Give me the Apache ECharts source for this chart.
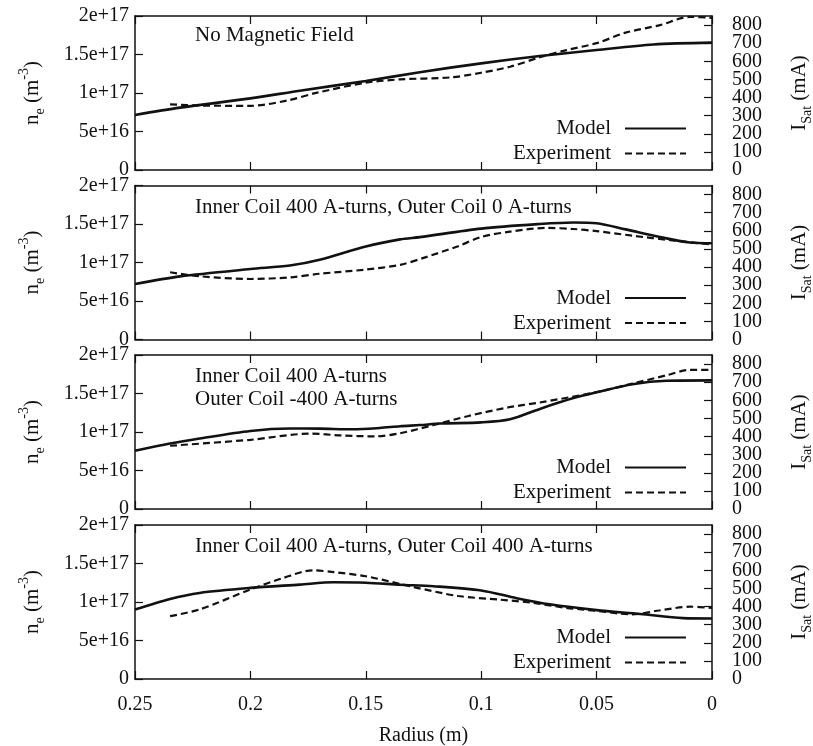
<!DOCTYPE html>
<html>
<head>
<meta charset="utf-8">
<script src="https://cdn.jsdelivr.net/npm/echarts@6/dist/echarts.min.js"></script>
<style>
  html, body { margin: 0; padding: 0; background: #fff; }
  #chart { width: 813px; height: 746px; }
</style>
</head>
<body>
<div id="chart"></div>
<script>
// Panel captions (one per magnetic-field configuration)
const panelTitles = [
  'No Magnetic Field',
  'Inner Coil 400 A-turns, Outer Coil 0 A-turns',
  'Inner Coil 400 A-turns\nOuter Coil -400 A-turns',
  'Inner Coil 400 A-turns, Outer Coil 400 A-turns'
];

// Model electron density n_e (m^-3) vs radius (m)
const model1 = [[0.25,7.15e16],[0.2305,8.1e16],[0.2,9.3e16],[0.1786,1.03e17],[0.15,1.156e17],[0.1266,1.27e17],[0.1,1.385e17],[0.0746,1.48e17],[0.05,1.558e17],[0.0254,1.63e17],[0,1.654e17]];
const model2 = [[0.25,7.2e16],[0.2305,8.2e16],[0.2,9.15e16],[0.1829,9.6e16],[0.17,1.035e17],[0.15,1.207e17],[0.1352,1.3e17],[0.1266,1.33e17],[0.1,1.44e17],[0.0746,1.5e17],[0.06,1.52e17],[0.05,1.51e17],[0.0374,1.43e17],[0.0225,1.33e17],[0.0096,1.26e17],[0,1.25e17]];
const model3 = [[0.25,7.56e16],[0.2348,8.5e16],[0.222,9.15e16],[0.2,1.014e17],[0.1829,1.046e17],[0.17,1.044e17],[0.1555,1.035e17],[0.144,1.052e17],[0.1352,1.075e17],[0.1266,1.09e17],[0.1176,1.11e17],[0.1,1.125e17],[0.0875,1.165e17],[0.0746,1.3e17],[0.06,1.44e17],[0.05,1.515e17],[0.0345,1.62e17],[0.0197,1.665e17],[0,1.67e17]];
const model4 = [[0.25,9.03e16],[0.2348,1.04e17],[0.222,1.118e17],[0.2,1.183e17],[0.1786,1.226e17],[0.164,1.256e17],[0.15,1.25e17],[0.1352,1.225e17],[0.1207,1.205e17],[0.1,1.15e17],[0.0847,1.05e17],[0.0703,9.7e16],[0.05,8.95e16],[0.0311,8.45e16],[0.0125,7.9e16],[0,7.85e16]];

// Measured ion saturation current I_Sat (mA) vs radius (m)
const exp1 = [[0.2348,362],[0.222,356],[0.2,354],[0.1843,383],[0.171,427],[0.15,482],[0.1352,500],[0.1133,511],[0.1,537],[0.0875,570],[0.0746,622],[0.063,662],[0.05,700],[0.0374,758],[0.0225,800],[0.0096,845],[0,840]];
const exp2 = [[0.2348,371],[0.222,349],[0.2,334],[0.1829,343],[0.17,363],[0.15,386],[0.1352,412],[0.1246,452],[0.11,515],[0.1,566],[0.0875,595],[0.0717,616],[0.06,610],[0.05,598],[0.0345,573],[0.0172,547],[0,524]];
const exp3 = [[0.2348,349],[0.2,382],[0.174,416],[0.1607,406],[0.146,401],[0.1352,418],[0.121,462],[0.105,515],[0.0885,560],[0.0746,588],[0.05,645],[0.0345,692],[0.0197,738],[0.0096,768],[0,768]];
const exp4 = [[0.2348,347],[0.222,384],[0.2,494],[0.1857,558],[0.173,600],[0.164,590],[0.15,567],[0.1352,525],[0.1295,508],[0.11,458],[0.0919,438],[0.0775,420],[0.0632,393],[0.05,376],[0.0345,357],[0.023,378],[0.0096,399],[0,393]];

const modelData = [model1, model2, model3, model4];
const expData = [exp1, exp2, exp3, exp4];
const legendNames = ['Model', 'Experiment'];

// Layout of the four stacked panels
const FONT = 'Liberation Serif';
const INK = '#111';
const panelTops = [16, 185.5, 355, 525];
const panelH = 154;
const titleTops = [23.5, 195.5, 364.5, 534.5];
const ISAT_MAX = 850;

function fmtDensity(v) {
  if (v === 0) return '0';
  return Number(v.toPrecision(3)).toExponential();
}

const lineAxis = { onZero: false, lineStyle: { color: INK, width: 1.5 } };
// negative length turns the tick marks into the plot frame
const tick = () => ({ show: true, inside: false, length: -8, lineStyle: { color: INK, width: 1.2 } });
const labelStyle = { fontFamily: FONT, fontSize: 20, color: INK };

const grid = [], xAxis = [], yAxis = [], series = [], legend = [], title = [];

panelTops.forEach((top, i) => {
  grid.push({ left: 135, right: 101, top: top, height: panelH, outerBoundsMode: 'none', containLabel: false });

  xAxis.push({
    gridIndex: i, type: 'value', min: 0, max: 0.25, interval: 0.05, inverse: true,
    axisLine: lineAxis, axisTick: tick(), splitLine: { show: false },
    axisLabel: Object.assign({ show: i === 3, margin: 16 }, labelStyle),
    name: i === 3 ? 'Radius (m)' : '', nameLocation: 'middle', nameGap: 47,
    nameTextStyle: labelStyle
  });
  xAxis.push({
    gridIndex: i, type: 'value', min: 0, max: 0.25, interval: 0.05, inverse: true,
    position: 'top', axisLine: lineAxis, axisTick: tick(),
    splitLine: { show: false }, axisLabel: { show: false }
  });

  // yAxis 3i: n_e (left), 3i+1: I_Sat (right), 3i+2: the I_Sat zero label
  yAxis.push({
    gridIndex: i, type: 'value', min: 0, max: 2e17, interval: 5e16, position: 'left',
    axisLine: Object.assign({ show: true }, lineAxis), axisTick: tick(),
    splitLine: { show: false },
    axisLabel: Object.assign({ margin: 6, formatter: fmtDensity, showMinLabel: true, showMaxLabel: true, hideOverlap: false }, labelStyle),
    name: '{n|n}{sub|e}{n| (m}{sup|-3}{n|)}', nameLocation: 'middle', nameRotate: 90, nameGap: 88,
    nameTextStyle: {
      fontFamily: FONT, fontSize: 21, color: INK,
      rich: {
        n: { fontFamily: FONT, fontSize: 21, color: INK, lineHeight: 30, verticalAlign: 'middle' },
        sub: { fontFamily: FONT, fontSize: 14, color: INK, lineHeight: 14, verticalAlign: 'bottom' },
        sup: { fontFamily: FONT, fontSize: 14, color: INK, lineHeight: 14, verticalAlign: 'top' }
      }
    }
  });
  yAxis.push({
    gridIndex: i, type: 'value', min: 0, max: ISAT_MAX, interval: 100, position: 'right',
    axisLine: Object.assign({ show: true }, lineAxis), axisTick: tick(),
    splitLine: { show: false },
    axisLabel: Object.assign({ margin: 20, showMinLabel: false, showMaxLabel: false }, labelStyle),
    name: '{n|I}{sub|Sat}{n| (mA)}', nameLocation: 'middle', nameRotate: 90, nameGap: 72,
    nameTextStyle: {
      fontFamily: FONT, fontSize: 21, color: INK,
      rich: {
        n: { fontFamily: FONT, fontSize: 21, color: INK, lineHeight: 30, verticalAlign: 'middle' },
        sub: { fontFamily: FONT, fontSize: 14, color: INK, lineHeight: 14, verticalAlign: 'bottom' }
      }
    }
  });
  yAxis.push({
    gridIndex: i, type: 'value', min: 0, max: ISAT_MAX, interval: ISAT_MAX, position: 'right',
    axisLine: { show: false, onZero: false }, axisTick: { show: false }, splitLine: { show: false },
    axisLabel: Object.assign({ margin: 20, showMinLabel: true, showMaxLabel: false }, labelStyle)
  });

  series.push({
    type: 'line', name: legendNames[0], xAxisIndex: 2 * i, yAxisIndex: 3 * i,
    data: modelData[i], symbol: 'none', smooth: 0.3,
    itemStyle: { color: INK }, lineStyle: { color: INK, width: 2.6 }
  });
  series.push({
    type: 'line', name: legendNames[1], xAxisIndex: 2 * i, yAxisIndex: 3 * i + 1,
    data: expData[i], symbol: 'none', smooth: 0.3,
    itemStyle: { color: INK }, lineStyle: { color: INK, width: 2.2, type: [7, 4] }
  });

  legend.push({
    orient: 'vertical', align: 'right', right: 126, top: top + 102, padding: 0,
    itemWidth: 61, itemHeight: 20, itemGap: 4, selectedMode: false,
    data: legendNames,
    itemStyle: { opacity: 0 },
    textStyle: { fontFamily: FONT, fontSize: 21, color: INK, padding: [0, 9, 0, 0] }
  });

  title.push({
    text: panelTitles[i], left: 195, top: titleTops[i], padding: 0,
    textStyle: { fontFamily: FONT, fontSize: 21, fontWeight: 'normal', color: INK, lineHeight: 23 }
  });
});

const chart = echarts.init(document.getElementById('chart'), null, { renderer: 'canvas' });
chart.setOption({
  animation: false,
  backgroundColor: '#fff',
  title, legend, grid, xAxis, yAxis, series
});
</script>
</body>
</html>
